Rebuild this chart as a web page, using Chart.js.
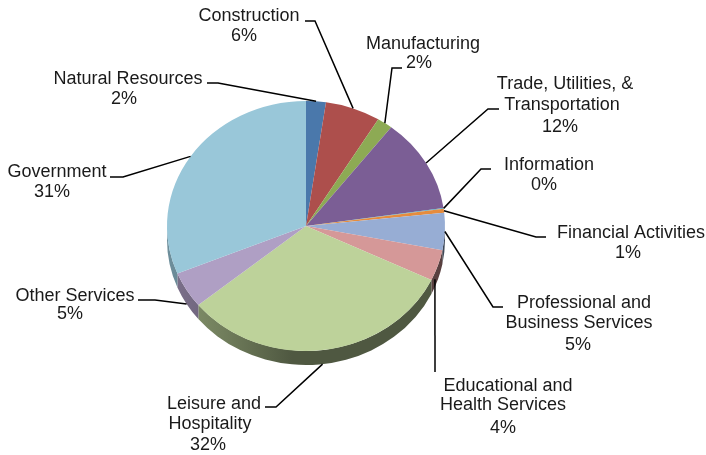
<!DOCTYPE html>
<html>
<head>
<meta charset="utf-8">
<style>
html,body{margin:0;padding:0;background:#fff;}
canvas{display:block;filter:blur(0.45px);}
</style>
<script src="https://cdn.jsdelivr.net/npm/chart.js@4"></script>
</head>
<body>
<canvas id="pieChart" width="706" height="455"></canvas>
<script>
var categories = ['Natural Resources','Construction','Manufacturing','Trade, Utilities, & Transportation','Information','Financial Activities','Professional and Business Services','Educational and Health Services','Leisure and Hospitality','Other Services','Government'];
var shares = [2.3,6.4,1.8,12.2,0.1,0.5,4.8,4.0,32.0,4.7,31.2];
var percentLabels = ['2%','6%','2%','12%','0%','1%','5%','4%','32%','5%','31%'];
var sliceColors = ['#4a78ab','#ad4f4c','#8daa54','#7b5e95','#4babc4','#e58c3e','#97add4','#d59898','#bdd29a','#af9fc4','#99c7d9'];

// where each callout sits: name lines [text, centre x, middle y], the percent spot, then the leader from text to slice
var callouts = [
  {name:[['Natural Resources',128,79]], pct:[124,99], elbow:[[207,83],[218,83]]},
  {name:[['Construction',249,16]], pct:[244,36], elbow:[[305,21],[315,21]]},
  {name:[['Manufacturing',423,44]], pct:[419,63], elbow:[[402,68],[392,68]]},
  {name:[['Trade, Utilities, &',565,84],['Transportation',562,105]], pct:[560,127], elbow:[[499,109],[488,109]]},
  {name:[['Information',549,165]], pct:[544,185], elbow:[[491,169],[481,169]]},
  {name:[['Financial Activities',631,233]], pct:[628,253], elbow:[[546,237],[536,237]]},
  {name:[['Professional and',584,303],['Business Services',579,323]], pct:[578,345], elbow:[[503,307],[493,307]]},
  {name:[['Educational and',508,386],['Health Services',503,405]], pct:[503,428], elbow:[[435,372]], anchorDx:-3},
  {name:[['Leisure and',214,404],['Hospitality',210,424]], pct:[208,445], elbow:[[265,407],[276,407]]},
  {name:[['Other Services',75,296]], pct:[70,314], elbow:[[138,300],[155,300]]},
  {name:[['Government',57,172]], pct:[52,192], elbow:[[110,177],[123,177]]}
];

var tilt = 125 / 139;
var depth = 14;

function shade(hex, f) {
  var r = parseInt(hex.substr(1,2),16), g = parseInt(hex.substr(3,2),16), b = parseInt(hex.substr(5,2),16);
  return 'rgb(' + Math.round(r*f) + ',' + Math.round(g*f) + ',' + Math.round(b*f) + ')';
}

// fakes the 3D look: rim under the front half, then squashes the pie into an ellipse
var tiltPlugin = {
  id: 'tilt',
  beforeDatasetsDraw: function(chart) {
    var ctx = chart.ctx;
    var arcs = chart.getDatasetMeta(0).data;
    var cx = arcs[0].x, cy = arcs[0].y, R = arcs[0].outerRadius;
    arcs.forEach(function(arc, i) {
      var a = Math.max(arc.startAngle, 0), b = Math.min(arc.endAngle, Math.PI);
      if (b <= a) return;
      var grad = ctx.createLinearGradient(cx - R, 0, cx + R, 0);
      grad.addColorStop(0, shade(sliceColors[i], 0.72));
      grad.addColorStop(0.2, shade(sliceColors[i], 0.6));
      grad.addColorStop(0.45, shade(sliceColors[i], 0.42));
      grad.addColorStop(1, shade(sliceColors[i], 0.42));
      ctx.fillStyle = grad;
      ctx.beginPath();
      ctx.ellipse(cx, cy, R, R * tilt, 0, a, b);
      ctx.ellipse(cx, cy + depth, R, R * tilt, 0, b, a, true);
      ctx.closePath();
      ctx.fill();
    });
    ctx.save();
    ctx.translate(cx, cy);
    ctx.scale(1, tilt);
    ctx.translate(-cx, -cy);
  },
  afterDatasetsDraw: function(chart) {
    var ctx = chart.ctx;
    ctx.restore();
    var arcs = chart.getDatasetMeta(0).data;
    ctx.strokeStyle = '#000';
    ctx.lineWidth = 1.5;
    ctx.fillStyle = '#1a1a1a';
    ctx.font = '18px "Liberation Sans"';
    ctx.textAlign = 'center';
    ctx.textBaseline = 'middle';
    callouts.forEach(function(c, i) {
      var arc = arcs[i];
      var mid = (arc.startAngle + arc.endAngle) / 2;
      var ax = arc.x + arc.outerRadius * Math.cos(mid) + (c.anchorDx || 0);
      var ay = arc.y + arc.outerRadius * tilt * Math.sin(mid);
      if (Math.sin(mid) > 0.2) ay += depth; // front slices: leader stops on the rim
      ctx.beginPath();
      ctx.moveTo(c.elbow[0][0], c.elbow[0][1]);
      for (var k = 1; k < c.elbow.length; k++) ctx.lineTo(c.elbow[k][0], c.elbow[k][1]);
      ctx.lineTo(ax, ay);
      ctx.stroke();
      c.name.forEach(function(t) { ctx.fillText(t[0], t[1], t[2]); });
      ctx.fillText(percentLabels[i], c.pct[0], c.pct[1]);
    });
  }
};

var ctx = document.getElementById('pieChart').getContext('2d');
var pieChart = new Chart(ctx, {
  type: 'pie',
  data: {
    labels: categories,
    datasets: [{
      data: shares,
      backgroundColor: sliceColors,
      borderWidth: 0,
      clip: false
    }]
  },
  options: {
    responsive: false,
    animation: false,
    layout: {padding: {left:167, right:261, top:87, bottom:90}},
    plugins: {legend:{display:false}, tooltip:{enabled:false}}
  },
  plugins: [tiltPlugin]
});
</script>
</body>
</html>
